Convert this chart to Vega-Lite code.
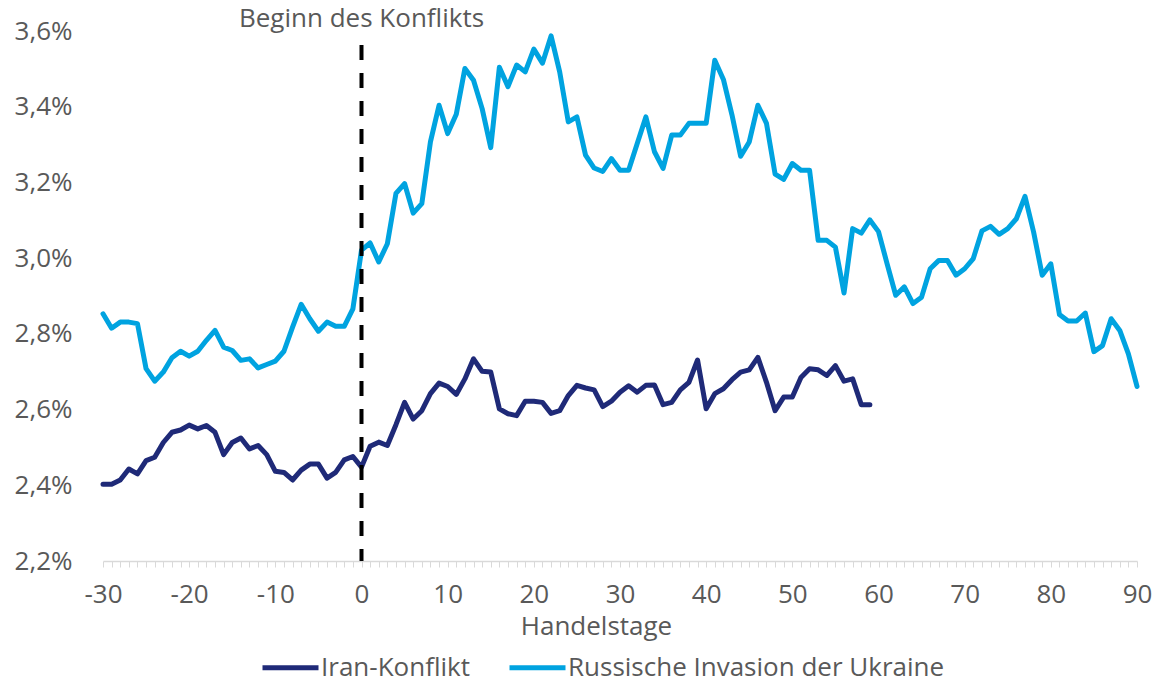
{
  "$schema": "https://vega.github.io/schema/vega-lite/v6.json",
  "autosize": {"type": "none"},
  "width": 1034,
  "height": 530,
  "padding": {"left": 103, "top": 31, "right": 18, "bottom": 119},
  "background": "white",
  "config": {
    "font": "Open Sans",
    "view": {"stroke": null},
    "axis": {"grid": false, "labelColor": "#595959", "titleColor": "#595959", "labelFontSize": 26, "titleFontSize": 26, "titleFontWeight": "normal", "labelFont": "Open Sans", "titleFont": "Open Sans"},
    "legend": {"labelColor": "#595959", "labelFontSize": 26, "labelFont": "Open Sans", "padding": 0, "labelLimit": 600}
  },
  "datasets": {
    "series": [
      {"day": -30, "series": "Russische Invasion der Ukraine", "value": 2.853},
      {"day": -29, "series": "Russische Invasion der Ukraine", "value": 2.815},
      {"day": -28, "series": "Russische Invasion der Ukraine", "value": 2.831},
      {"day": -27, "series": "Russische Invasion der Ukraine", "value": 2.831},
      {"day": -26, "series": "Russische Invasion der Ukraine", "value": 2.827},
      {"day": -25, "series": "Russische Invasion der Ukraine", "value": 2.708},
      {"day": -24, "series": "Russische Invasion der Ukraine", "value": 2.675},
      {"day": -23, "series": "Russische Invasion der Ukraine", "value": 2.699},
      {"day": -22, "series": "Russische Invasion der Ukraine", "value": 2.737},
      {"day": -21, "series": "Russische Invasion der Ukraine", "value": 2.754},
      {"day": -20, "series": "Russische Invasion der Ukraine", "value": 2.741},
      {"day": -19, "series": "Russische Invasion der Ukraine", "value": 2.754},
      {"day": -18, "series": "Russische Invasion der Ukraine", "value": 2.783},
      {"day": -17, "series": "Russische Invasion der Ukraine", "value": 2.809},
      {"day": -16, "series": "Russische Invasion der Ukraine", "value": 2.765},
      {"day": -15, "series": "Russische Invasion der Ukraine", "value": 2.756},
      {"day": -14, "series": "Russische Invasion der Ukraine", "value": 2.730},
      {"day": -13, "series": "Russische Invasion der Ukraine", "value": 2.734},
      {"day": -12, "series": "Russische Invasion der Ukraine", "value": 2.710},
      {"day": -11, "series": "Russische Invasion der Ukraine", "value": 2.719},
      {"day": -10, "series": "Russische Invasion der Ukraine", "value": 2.728},
      {"day": -9, "series": "Russische Invasion der Ukraine", "value": 2.754},
      {"day": -8, "series": "Russische Invasion der Ukraine", "value": 2.818},
      {"day": -7, "series": "Russische Invasion der Ukraine", "value": 2.878},
      {"day": -6, "series": "Russische Invasion der Ukraine", "value": 2.840},
      {"day": -5, "series": "Russische Invasion der Ukraine", "value": 2.807},
      {"day": -4, "series": "Russische Invasion der Ukraine", "value": 2.831},
      {"day": -3, "series": "Russische Invasion der Ukraine", "value": 2.820},
      {"day": -2, "series": "Russische Invasion der Ukraine", "value": 2.820},
      {"day": -1, "series": "Russische Invasion der Ukraine", "value": 2.866},
      {"day": 0, "series": "Russische Invasion der Ukraine", "value": 3.021},
      {"day": 1, "series": "Russische Invasion der Ukraine", "value": 3.040},
      {"day": 2, "series": "Russische Invasion der Ukraine", "value": 2.990},
      {"day": 3, "series": "Russische Invasion der Ukraine", "value": 3.038},
      {"day": 4, "series": "Russische Invasion der Ukraine", "value": 3.171},
      {"day": 5, "series": "Russische Invasion der Ukraine", "value": 3.197},
      {"day": 6, "series": "Russische Invasion der Ukraine", "value": 3.119},
      {"day": 7, "series": "Russische Invasion der Ukraine", "value": 3.144},
      {"day": 8, "series": "Russische Invasion der Ukraine", "value": 3.307},
      {"day": 9, "series": "Russische Invasion der Ukraine", "value": 3.404},
      {"day": 10, "series": "Russische Invasion der Ukraine", "value": 3.329},
      {"day": 11, "series": "Russische Invasion der Ukraine", "value": 3.380},
      {"day": 12, "series": "Russische Invasion der Ukraine", "value": 3.501},
      {"day": 13, "series": "Russische Invasion der Ukraine", "value": 3.470},
      {"day": 14, "series": "Russische Invasion der Ukraine", "value": 3.395},
      {"day": 15, "series": "Russische Invasion der Ukraine", "value": 3.292},
      {"day": 16, "series": "Russische Invasion der Ukraine", "value": 3.504},
      {"day": 17, "series": "Russische Invasion der Ukraine", "value": 3.453},
      {"day": 18, "series": "Russische Invasion der Ukraine", "value": 3.510},
      {"day": 19, "series": "Russische Invasion der Ukraine", "value": 3.492},
      {"day": 20, "series": "Russische Invasion der Ukraine", "value": 3.552},
      {"day": 21, "series": "Russische Invasion der Ukraine", "value": 3.515},
      {"day": 22, "series": "Russische Invasion der Ukraine", "value": 3.587},
      {"day": 23, "series": "Russische Invasion der Ukraine", "value": 3.492},
      {"day": 24, "series": "Russische Invasion der Ukraine", "value": 3.360},
      {"day": 25, "series": "Russische Invasion der Ukraine", "value": 3.373},
      {"day": 26, "series": "Russische Invasion der Ukraine", "value": 3.272},
      {"day": 27, "series": "Russische Invasion der Ukraine", "value": 3.238},
      {"day": 28, "series": "Russische Invasion der Ukraine", "value": 3.229},
      {"day": 29, "series": "Russische Invasion der Ukraine", "value": 3.263},
      {"day": 30, "series": "Russische Invasion der Ukraine", "value": 3.232},
      {"day": 31, "series": "Russische Invasion der Ukraine", "value": 3.232},
      {"day": 32, "series": "Russische Invasion der Ukraine", "value": 3.303},
      {"day": 33, "series": "Russische Invasion der Ukraine", "value": 3.373},
      {"day": 34, "series": "Russische Invasion der Ukraine", "value": 3.281},
      {"day": 35, "series": "Russische Invasion der Ukraine", "value": 3.237},
      {"day": 36, "series": "Russische Invasion der Ukraine", "value": 3.325},
      {"day": 37, "series": "Russische Invasion der Ukraine", "value": 3.325},
      {"day": 38, "series": "Russische Invasion der Ukraine", "value": 3.356},
      {"day": 39, "series": "Russische Invasion der Ukraine", "value": 3.356},
      {"day": 40, "series": "Russische Invasion der Ukraine", "value": 3.356},
      {"day": 41, "series": "Russische Invasion der Ukraine", "value": 3.523},
      {"day": 42, "series": "Russische Invasion der Ukraine", "value": 3.472},
      {"day": 43, "series": "Russische Invasion der Ukraine", "value": 3.378},
      {"day": 44, "series": "Russische Invasion der Ukraine", "value": 3.269},
      {"day": 45, "series": "Russische Invasion der Ukraine", "value": 3.307},
      {"day": 46, "series": "Russische Invasion der Ukraine", "value": 3.404},
      {"day": 47, "series": "Russische Invasion der Ukraine", "value": 3.356},
      {"day": 48, "series": "Russische Invasion der Ukraine", "value": 3.222},
      {"day": 49, "series": "Russische Invasion der Ukraine", "value": 3.208},
      {"day": 50, "series": "Russische Invasion der Ukraine", "value": 3.250},
      {"day": 51, "series": "Russische Invasion der Ukraine", "value": 3.232},
      {"day": 52, "series": "Russische Invasion der Ukraine", "value": 3.232},
      {"day": 53, "series": "Russische Invasion der Ukraine", "value": 3.047},
      {"day": 54, "series": "Russische Invasion der Ukraine", "value": 3.047},
      {"day": 55, "series": "Russische Invasion der Ukraine", "value": 3.029},
      {"day": 56, "series": "Russische Invasion der Ukraine", "value": 2.908},
      {"day": 57, "series": "Russische Invasion der Ukraine", "value": 3.078},
      {"day": 58, "series": "Russische Invasion der Ukraine", "value": 3.066},
      {"day": 59, "series": "Russische Invasion der Ukraine", "value": 3.101},
      {"day": 60, "series": "Russische Invasion der Ukraine", "value": 3.070},
      {"day": 61, "series": "Russische Invasion der Ukraine", "value": 2.985},
      {"day": 62, "series": "Russische Invasion der Ukraine", "value": 2.902},
      {"day": 63, "series": "Russische Invasion der Ukraine", "value": 2.924},
      {"day": 64, "series": "Russische Invasion der Ukraine", "value": 2.880},
      {"day": 65, "series": "Russische Invasion der Ukraine", "value": 2.897},
      {"day": 66, "series": "Russische Invasion der Ukraine", "value": 2.972},
      {"day": 67, "series": "Russische Invasion der Ukraine", "value": 2.994},
      {"day": 68, "series": "Russische Invasion der Ukraine", "value": 2.994},
      {"day": 69, "series": "Russische Invasion der Ukraine", "value": 2.955},
      {"day": 70, "series": "Russische Invasion der Ukraine", "value": 2.972},
      {"day": 71, "series": "Russische Invasion der Ukraine", "value": 2.999},
      {"day": 72, "series": "Russische Invasion der Ukraine", "value": 3.072},
      {"day": 73, "series": "Russische Invasion der Ukraine", "value": 3.084},
      {"day": 74, "series": "Russische Invasion der Ukraine", "value": 3.063},
      {"day": 75, "series": "Russische Invasion der Ukraine", "value": 3.078},
      {"day": 76, "series": "Russische Invasion der Ukraine", "value": 3.104},
      {"day": 77, "series": "Russische Invasion der Ukraine", "value": 3.163},
      {"day": 78, "series": "Russische Invasion der Ukraine", "value": 3.069},
      {"day": 79, "series": "Russische Invasion der Ukraine", "value": 2.955},
      {"day": 80, "series": "Russische Invasion der Ukraine", "value": 2.985},
      {"day": 81, "series": "Russische Invasion der Ukraine", "value": 2.851},
      {"day": 82, "series": "Russische Invasion der Ukraine", "value": 2.834},
      {"day": 83, "series": "Russische Invasion der Ukraine", "value": 2.834},
      {"day": 84, "series": "Russische Invasion der Ukraine", "value": 2.855},
      {"day": 85, "series": "Russische Invasion der Ukraine", "value": 2.753},
      {"day": 86, "series": "Russische Invasion der Ukraine", "value": 2.769},
      {"day": 87, "series": "Russische Invasion der Ukraine", "value": 2.840},
      {"day": 88, "series": "Russische Invasion der Ukraine", "value": 2.809},
      {"day": 89, "series": "Russische Invasion der Ukraine", "value": 2.747},
      {"day": 90, "series": "Russische Invasion der Ukraine", "value": 2.661},
      {"day": -30, "series": "Iran-Konflikt", "value": 2.403},
      {"day": -29, "series": "Iran-Konflikt", "value": 2.403},
      {"day": -28, "series": "Iran-Konflikt", "value": 2.414},
      {"day": -27, "series": "Iran-Konflikt", "value": 2.443},
      {"day": -26, "series": "Iran-Konflikt", "value": 2.430},
      {"day": -25, "series": "Iran-Konflikt", "value": 2.465},
      {"day": -24, "series": "Iran-Konflikt", "value": 2.474},
      {"day": -23, "series": "Iran-Konflikt", "value": 2.513},
      {"day": -22, "series": "Iran-Konflikt", "value": 2.540},
      {"day": -21, "series": "Iran-Konflikt", "value": 2.546},
      {"day": -20, "series": "Iran-Konflikt", "value": 2.559},
      {"day": -19, "series": "Iran-Konflikt", "value": 2.549},
      {"day": -18, "series": "Iran-Konflikt", "value": 2.558},
      {"day": -17, "series": "Iran-Konflikt", "value": 2.540},
      {"day": -16, "series": "Iran-Konflikt", "value": 2.481},
      {"day": -15, "series": "Iran-Konflikt", "value": 2.513},
      {"day": -14, "series": "Iran-Konflikt", "value": 2.525},
      {"day": -13, "series": "Iran-Konflikt", "value": 2.496},
      {"day": -12, "series": "Iran-Konflikt", "value": 2.505},
      {"day": -11, "series": "Iran-Konflikt", "value": 2.481},
      {"day": -10, "series": "Iran-Konflikt", "value": 2.437},
      {"day": -9, "series": "Iran-Konflikt", "value": 2.434},
      {"day": -8, "series": "Iran-Konflikt", "value": 2.414},
      {"day": -7, "series": "Iran-Konflikt", "value": 2.440},
      {"day": -6, "series": "Iran-Konflikt", "value": 2.456},
      {"day": -5, "series": "Iran-Konflikt", "value": 2.456},
      {"day": -4, "series": "Iran-Konflikt", "value": 2.419},
      {"day": -3, "series": "Iran-Konflikt", "value": 2.434},
      {"day": -2, "series": "Iran-Konflikt", "value": 2.467},
      {"day": -1, "series": "Iran-Konflikt", "value": 2.476},
      {"day": 0, "series": "Iran-Konflikt", "value": 2.448},
      {"day": 1, "series": "Iran-Konflikt", "value": 2.503},
      {"day": 2, "series": "Iran-Konflikt", "value": 2.514},
      {"day": 3, "series": "Iran-Konflikt", "value": 2.505},
      {"day": 4, "series": "Iran-Konflikt", "value": 2.560},
      {"day": 5, "series": "Iran-Konflikt", "value": 2.619},
      {"day": 6, "series": "Iran-Konflikt", "value": 2.575},
      {"day": 7, "series": "Iran-Konflikt", "value": 2.597},
      {"day": 8, "series": "Iran-Konflikt", "value": 2.642},
      {"day": 9, "series": "Iran-Konflikt", "value": 2.670},
      {"day": 10, "series": "Iran-Konflikt", "value": 2.661},
      {"day": 11, "series": "Iran-Konflikt", "value": 2.640},
      {"day": 12, "series": "Iran-Konflikt", "value": 2.681},
      {"day": 13, "series": "Iran-Konflikt", "value": 2.734},
      {"day": 14, "series": "Iran-Konflikt", "value": 2.701},
      {"day": 15, "series": "Iran-Konflikt", "value": 2.699},
      {"day": 16, "series": "Iran-Konflikt", "value": 2.602},
      {"day": 17, "series": "Iran-Konflikt", "value": 2.589},
      {"day": 18, "series": "Iran-Konflikt", "value": 2.584},
      {"day": 19, "series": "Iran-Konflikt", "value": 2.622},
      {"day": 20, "series": "Iran-Konflikt", "value": 2.622},
      {"day": 21, "series": "Iran-Konflikt", "value": 2.619},
      {"day": 22, "series": "Iran-Konflikt", "value": 2.590},
      {"day": 23, "series": "Iran-Konflikt", "value": 2.597},
      {"day": 24, "series": "Iran-Konflikt", "value": 2.637},
      {"day": 25, "series": "Iran-Konflikt", "value": 2.664},
      {"day": 26, "series": "Iran-Konflikt", "value": 2.657},
      {"day": 27, "series": "Iran-Konflikt", "value": 2.652},
      {"day": 28, "series": "Iran-Konflikt", "value": 2.608},
      {"day": 29, "series": "Iran-Konflikt", "value": 2.622},
      {"day": 30, "series": "Iran-Konflikt", "value": 2.646},
      {"day": 31, "series": "Iran-Konflikt", "value": 2.663},
      {"day": 32, "series": "Iran-Konflikt", "value": 2.646},
      {"day": 33, "series": "Iran-Konflikt", "value": 2.664},
      {"day": 34, "series": "Iran-Konflikt", "value": 2.665},
      {"day": 35, "series": "Iran-Konflikt", "value": 2.613},
      {"day": 36, "series": "Iran-Konflikt", "value": 2.619},
      {"day": 37, "series": "Iran-Konflikt", "value": 2.652},
      {"day": 38, "series": "Iran-Konflikt", "value": 2.672},
      {"day": 39, "series": "Iran-Konflikt", "value": 2.731},
      {"day": 40, "series": "Iran-Konflikt", "value": 2.602},
      {"day": 41, "series": "Iran-Konflikt", "value": 2.642},
      {"day": 42, "series": "Iran-Konflikt", "value": 2.655},
      {"day": 43, "series": "Iran-Konflikt", "value": 2.679},
      {"day": 44, "series": "Iran-Konflikt", "value": 2.699},
      {"day": 45, "series": "Iran-Konflikt", "value": 2.705},
      {"day": 46, "series": "Iran-Konflikt", "value": 2.738},
      {"day": 47, "series": "Iran-Konflikt", "value": 2.672},
      {"day": 48, "series": "Iran-Konflikt", "value": 2.597},
      {"day": 49, "series": "Iran-Konflikt", "value": 2.633},
      {"day": 50, "series": "Iran-Konflikt", "value": 2.633},
      {"day": 51, "series": "Iran-Konflikt", "value": 2.685},
      {"day": 52, "series": "Iran-Konflikt", "value": 2.708},
      {"day": 53, "series": "Iran-Konflikt", "value": 2.705},
      {"day": 54, "series": "Iran-Konflikt", "value": 2.690},
      {"day": 55, "series": "Iran-Konflikt", "value": 2.716},
      {"day": 56, "series": "Iran-Konflikt", "value": 2.675},
      {"day": 57, "series": "Iran-Konflikt", "value": 2.681},
      {"day": 58, "series": "Iran-Konflikt", "value": 2.613},
      {"day": 59, "series": "Iran-Konflikt", "value": 2.613}
    ],
    "marker": [
      {"day": 0, "low": 2.2, "high": 3.563, "label": "Beginn des Konflikts", "labelValue": 3.6}
    ]
  },
  "layer": [
    {
      "data": {"name": "series"},
      "mark": {"type": "line", "strokeWidth": 5, "strokeJoin": "round", "strokeCap": "round"},
      "encoding": {
        "x": {
          "field": "day", "type": "quantitative",
          "scale": {"domain": [-30, 90], "nice": false, "zero": false},
          "axis": {
            "title": "Handelstage",
            "titleX": 493, "titleY": 73, "titleBaseline": "alphabetic", "titleAlign": "center",
            "tickCount": 500,
            "values": [-30,-29,-28,-27,-26,-25,-24,-23,-22,-21,-20,-19,-18,-17,-16,-15,-14,-13,-12,-11,-10,-9,-8,-7,-6,-5,-4,-3,-2,-1,0,1,2,3,4,5,6,7,8,9,10,11,12,13,14,15,16,17,18,19,20,21,22,23,24,25,26,27,28,29,30,31,32,33,34,35,36,37,38,39,40,41,42,43,44,45,46,47,48,49,50,51,52,53,54,55,56,57,58,59,60,61,62,63,64,65,66,67,68,69,70,71,72,73,74,75,76,77,78,79,80,81,82,83,84,85,86,87,88,89,90],
            "labelExpr": "datum.value % 10 === 0 ? ('' + datum.value) : ''",
            "labelOverlap": false,
            "labelFlush": false,
            "labelPadding": 14,
            "domainColor": "#d9d9d9", "domainWidth": 1.5,
            "tickColor": "#d9d9d9", "tickSize": 6, "tickWidth": 1
          }
        },
        "y": {
          "field": "value", "type": "quantitative",
          "scale": {"domain": [2.2, 3.6], "nice": false, "zero": false},
          "axis": {
            "title": null,
            "tickCount": 50,
            "values": [2.2, 2.4, 2.6, 2.8, 3.0, 3.2, 3.4, 3.6],
            "labelExpr": "replace(format(datum.value, '.1f'), '.', ',') + '%'",
            "domain": false, "ticks": false, "labelPadding": 31, "labelOverlap": false, "labelFlush": false
          }
        },
        "color": {
          "field": "series", "type": "nominal",
          "scale": {"domain": ["Iran-Konflikt", "Russische Invasion der Ukraine"], "range": ["#1f2a78", "#00a3e0"]},
          "legend": {
            "title": null, "orient": "none", "direction": "horizontal",
            "legendX": 157, "legendY": 606,
            "symbolType": "stroke", "symbolSize": 3136, "symbolStrokeWidth": 5,
            "labelOffset": 0, "columnPadding": 29
          }
        }
      }
    },
    {
      "data": {"name": "marker"},
      "mark": {"type": "rule", "color": "black", "strokeWidth": 4, "strokeDash": [15, 13]},
      "encoding": {
        "x": {"field": "day", "type": "quantitative"},
        "y": {"field": "high", "type": "quantitative"},
        "y2": {"field": "low"}
      }
    },
    {
      "data": {"name": "marker"},
      "mark": {"type": "text", "fontSize": 26, "font": "Open Sans", "color": "#595959", "align": "center", "baseline": "alphabetic", "dy": -4},
      "encoding": {
        "x": {"field": "day", "type": "quantitative"},
        "y": {"field": "labelValue", "type": "quantitative"},
        "text": {"field": "label"}
      }
    }
  ]
}
